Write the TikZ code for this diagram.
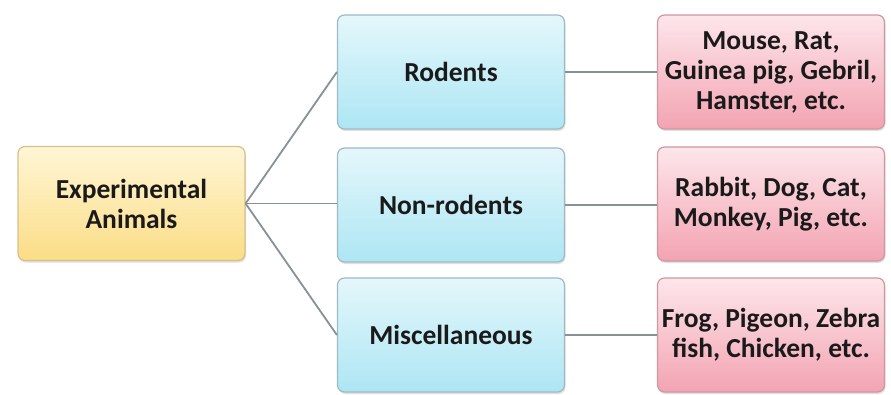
\documentclass[tikz,border=0pt]{standalone}
\usepackage{fontspec}
\setmainfont{Carlito}
\usetikzlibrary{shadows}
\definecolor{ytop}{HTML}{FFF6D6}
\definecolor{ybot}{HTML}{FBDD86}
\definecolor{yline}{HTML}{D8C08A}
\definecolor{btop}{HTML}{E4F7FB}
\definecolor{bbot}{HTML}{ADE6F4}
\definecolor{bline}{HTML}{9EBAC4}
\definecolor{ptop}{HTML}{FDE6EB}
\definecolor{pbot}{HTML}{F3A3B2}
\definecolor{pline}{HTML}{CF97A0}
\definecolor{conn}{HTML}{879296}
\definecolor{txt}{HTML}{1A1A1A}
\tikzset{
  box/.style={rounded corners=7pt, minimum width=227pt, minimum height=114pt,
    align=center, font=\fontsize{27.5}{30}\selectfont\bfseries, text=txt,
    line width=1.2pt, inner sep=1pt,
    drop shadow={shadow xshift=1pt, shadow yshift=-2pt, opacity=0.25}},
  ybox/.style={box, draw=yline, top color=ytop, bottom color=ybot},
  bbox/.style={box, draw=bline, top color=btop, bottom color=bbot},
  pbox/.style={box, draw=pline, top color=ptop, bottom color=pbot},
  conn/.style={draw=conn, line width=1.8pt}
}
\begin{document}
\begin{tikzpicture}[x=1pt,y=1pt]
\useasboundingbox (0,0) rectangle (891,394);
\node[ybox] (exp) at (131.5,190.5) {Experimental\\Animals};
\node[bbox] (rod) at (451,322) {Rodents};
\node[bbox] (non) at (451,189) {Non-rodents};
\node[bbox] (mis) at (451,59) {Miscellaneous};
\node[pbox] (prod) at (771,322) {Mouse, Rat,\\Guinea pig, Gebril,\\Hamster, etc.};
\node[pbox] (pnon) at (771,190) {Rabbit, Dog, Cat,\\Monkey, Pig, etc.};
\node[pbox] (pmis) at (771,59) {Frog, Pigeon, Zebra\\fish, Chicken, etc.};
\draw[conn] (exp.east) -- (rod.west);
\draw[conn] (exp.east) -- (non.west |- exp.east);
\draw[conn] (exp.east) -- (mis.west);
\draw[conn] (rod.east) -- (prod.west);
\draw[conn] (non.east) -- (pnon.west |- non.east);
\draw[conn] (mis.east) -- (pmis.west);
\end{tikzpicture}
\end{document}
